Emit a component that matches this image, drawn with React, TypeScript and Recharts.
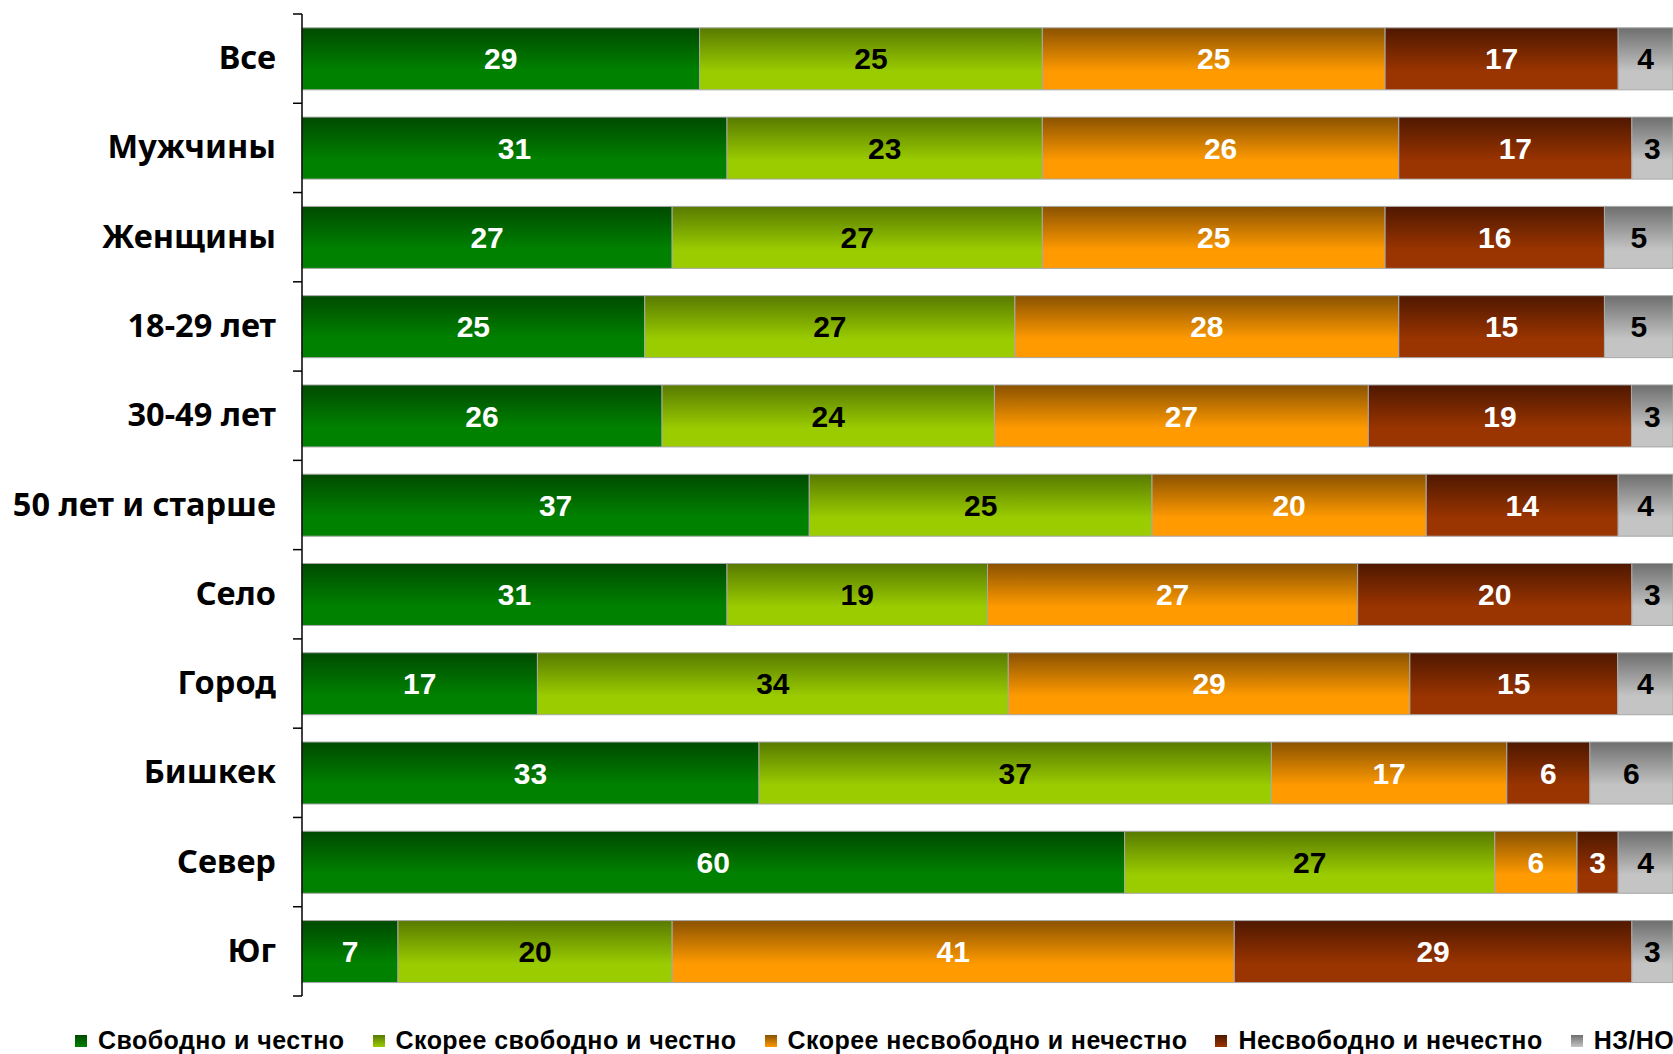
import { BarChart, Bar, XAxis, YAxis, Legend, LabelList } from "recharts"

const categories = [
  "Все",
  "Мужчины",
  "Женщины",
  "18-29 лет",
  "30-49 лет",
  "50 лет и старше",
  "Село",
  "Город",
  "Бишкек",
  "Север",
  "Юг",
]

const svobodno = [29, 31, 27, 25, 26, 37, 31, 17, 33, 60, 7]
const skoreeSvobodno = [25, 23, 27, 27, 24, 25, 19, 34, 37, 27, 20]
const skoreeNesvobodno = [25, 26, 25, 28, 27, 20, 27, 29, 17, 6, 41]
const nesvobodno = [17, 17, 16, 15, 19, 14, 20, 15, 6, 3, 29]
const nzno = [4, 3, 5, 5, 3, 4, 3, 4, 6, 4, 3]

const series = [
  { key: "s1", name: "Свободно и честно", values: svobodno, top: "#004a00", bottom: "#008200", label: "#ffffff" },
  { key: "s2", name: "Скорее свободно и честно", values: skoreeSvobodno, top: "#587a00", bottom: "#9acc00", label: "#000000" },
  { key: "s3", name: "Скорее несвободно и нечестно", values: skoreeNesvobodno, top: "#8a5200", bottom: "#ff9a00", label: "#ffffff" },
  { key: "s4", name: "Несвободно и нечестно", values: nesvobodno, top: "#4e1800", bottom: "#9a3400", label: "#ffffff" },
  { key: "s5", name: "НЗ/НО", values: nzno, top: "#6e6e6e", bottom: "#c4c4c4", label: "#000000" },
]

const data = categories.map((name, i) => {
  const row: Record<string, string | number> = { name }
  series.forEach((s) => {
    row[s.key] = s.values[i]
  })
  return row
})

const CHART_W = 1673
const CHART_H = 1054
const MARGIN_TOP = 14
const LEGEND_H = 58
const AXIS_W = 302
const BAND = (CHART_H - MARGIN_TOP - LEGEND_H) / categories.length

function CategoryTick(props: any) {
  const { y, payload, index } = props
  const half = BAND / 2
  return (
    <g>
      <line x1={AXIS_W - 9} x2={AXIS_W} y1={y - half} y2={y - half} stroke="#000" strokeWidth={1.5} />
      {index === categories.length - 1 && (
        <line x1={AXIS_W - 9} x2={AXIS_W} y1={y + half} y2={y + half} stroke="#000" strokeWidth={1.5} />
      )}
      <text
        x={AXIS_W - 26}
        y={y - 2}
        textAnchor="end"
        dominantBaseline="central"
        fontFamily="'Noto Sans', sans-serif"
        fontWeight="bold"
        fontSize={32.5}
        fill="#000"
      >
        {payload.value}
      </text>
    </g>
  )
}

function LegendContent() {
  return (
    <div
      style={{
        display: "flex",
        alignItems: "center",
        paddingLeft: 75,
        paddingTop: 30,
        gap: 28,
        fontFamily: "'Liberation Sans', Arial, sans-serif",
        fontWeight: "bold",
        fontSize: 25,
        letterSpacing: 0.45,
        color: "#000",
        whiteSpace: "nowrap",
      }}
    >
      {series.map((s) => (
        <div key={s.key} style={{ display: "flex", alignItems: "center", gap: 11 }}>
          <span
            style={{
              display: "inline-block",
              width: 12,
              height: 12,
              background: `linear-gradient(${s.top}, ${s.bottom})`,
            }}
          />
          <span>{s.name}</span>
        </div>
      ))}
    </div>
  )
}

export default function App() {
  return (
    <div style={{ position: "absolute", left: 0, top: 0 }}>
      <BarChart
        width={CHART_W}
        height={CHART_H}
        data={data}
        layout="vertical"
        stackOffset="expand"
        barCategoryGap="15.5%"
        margin={{ top: MARGIN_TOP, right: 0, bottom: 0, left: 0 }}
      >
        <defs>
          {series.map((s) => (
            <linearGradient key={s.key} id={`grad-${s.key}`} x1="0" y1="0" x2="0" y2="1">
              <stop offset="0%" stopColor={s.top} />
              <stop offset="70%" stopColor={s.bottom} />
              <stop offset="100%" stopColor={s.bottom} />
            </linearGradient>
          ))}
        </defs>
        <XAxis type="number" hide domain={[0, 1]} />
        <YAxis
          type="category"
          dataKey="name"
          width={AXIS_W}
          axisLine={{ stroke: "#000", strokeWidth: 1.5 }}
          tickLine={false}
          tick={<CategoryTick />}
          interval={0}
        />
        <Legend verticalAlign="bottom" height={LEGEND_H} content={<LegendContent />} />
        {series.map((s) => (
          <Bar
            key={s.key}
            dataKey={s.key}
            name={s.name}
            stackId="a"
            fill={`url(#grad-${s.key})`}
            stroke="#a8a8a8"
            strokeWidth={1}
            isAnimationActive={false}
          >
            <LabelList
              dataKey={s.key}
              position="center"
              fill={s.label}
              fontFamily="'Liberation Sans', Arial, sans-serif"
              fontWeight="bold"
              fontSize={30}
            />
          </Bar>
        ))}
      </BarChart>
    </div>
  )
}
